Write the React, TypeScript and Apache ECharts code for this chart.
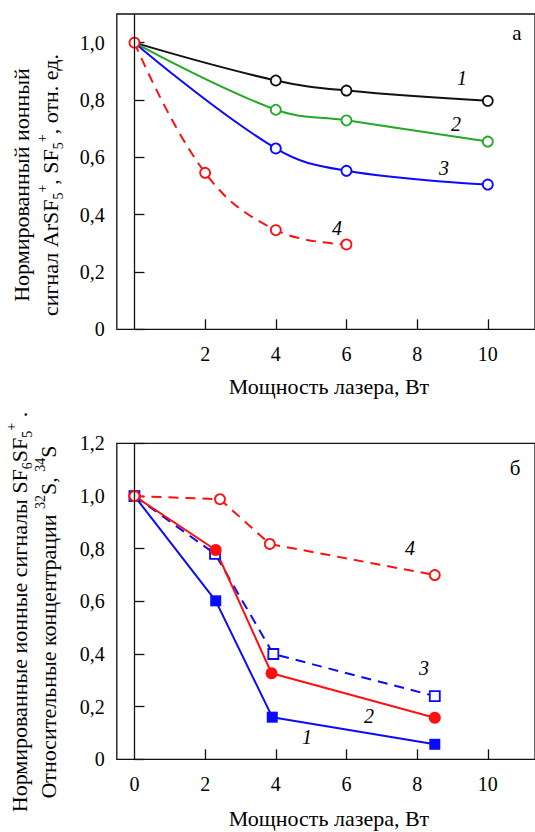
import { useEffect, useRef } from 'react';
import * as echarts from 'echarts';

const FONT = "'Liberation Serif', 'Times New Roman', serif";

// Panel а: normalized ion signal vs laser power (W)
const powerA = [0, 4, 6, 10];
const signalA1 = [1.0, 0.868, 0.833, 0.797];
const signalA2 = [1.0, 0.766, 0.729, 0.655];
const signalA3 = [1.0, 0.631, 0.553, 0.505];
const powerA4 = [0, 2, 4, 6];
const signalA4 = [1.0, 0.546, 0.346, 0.296];

// Panel б: normalized ion signals / relative concentrations vs laser power (W)
const powerB1 = [0, 2.3, 3.9, 8.5];
const signalB1 = [1.0, 0.602, 0.16, 0.057];
const powerB2 = [0, 2.3, 3.88, 8.5];
const signalB2 = [1.0, 0.795, 0.327, 0.158];
const powerB3 = [0, 2.28, 3.93, 8.5];
const signalB3 = [1.0, 0.78, 0.4, 0.24];
const powerB4 = [0, 2.42, 3.83, 8.5];
const signalB4 = [1.0, 0.988, 0.818, 0.7];

const xLabelsA = [2, 4, 6, 8, 10];
const xLabelsB = [0, 2, 4, 6, 8, 10];
const xTickMarks = [2, 4, 6, 8, 10];
const yTicksA = [0, 0.2, 0.4, 0.6, 0.8, 1.0];
const yTicksB = [0, 0.2, 0.4, 0.6, 0.8, 1.0, 1.2];

const BLACK = '#111111';
const GREEN = '#22aa22';
const BLUE = '#0a0aff';
const RED = '#ff1010';

const pairs = (xs: number[], ys: number[], hideFirst = false) =>
  xs.map((x, i) =>
    hideFirst && i === 0 ? { value: [x, ys[i]], symbol: 'none' } : { value: [x, ys[i]] }
  );

const fmtY = (v: number) => (v === 0 ? '0' : v.toFixed(1).replace('.', ','));

export default function App() {
  const ref = useRef<HTMLDivElement>(null);

  useEffect(() => {
    if (!ref.current) return;
    const chart = echarts.init(ref.current, undefined, { renderer: 'svg' });

    const gridLeft = 116.8;
    const gridWidth = 421;
    const unitX = 35.57;
    const xMin = -0.5;
    const xMax = xMin + gridWidth / unitX;

    const xAxisBase = (gridIndex: number, labels: number[]) => ({
      type: 'value',
      gridIndex,
      min: xMin,
      max: xMax,
      axisLine: { show: false },
      splitLine: { show: false },
      axisTick: {
        show: true,
        inside: true,
        length: 10,
        customValues: xTickMarks,
        lineStyle: { color: BLACK, width: 1.3 },
      },
      axisLabel: {
        show: true,
        customValues: labels,
        margin: 15,
        color: '#000',
        fontFamily: FONT,
        fontSize: 20,
      },
    });

    const yAxisBase = (gridIndex: number, max: number, ticks: number[]) => ({
      type: 'value',
      gridIndex,
      min: 0,
      max,
      axisLine: { show: false },
      splitLine: { show: false },
      axisTick: {
        show: true,
        inside: true,
        length: 10,
        customValues: ticks,
        lineStyle: { color: BLACK, width: 1.3 },
      },
      axisLabel: {
        show: true,
        customValues: ticks,
        margin: 12,
        color: '#000',
        fontFamily: FONT,
        fontSize: 20,
        formatter: (v: number) => fmtY(v),
      },
    });

    const zeroLine = {
      silent: true,
      symbol: ['none', 'none'],
      label: { show: false },
      lineStyle: { color: BLACK, width: 1.3, type: 'solid' },
      data: [{ xAxis: 0 }],
    };

    const openMarker = (color: string, symbol = 'circle', size = 10) => ({
      symbol,
      symbolSize: size,
      itemStyle: { color: '#ffffff', borderColor: color, borderWidth: 1.8 },
    });
    const filledMarker = (color: string, symbol: string, size: number) => ({
      symbol,
      symbolSize: size,
      itemStyle: { color, borderWidth: 0 },
    });

    const text = (
      x: number,
      y: number,
      t: string,
      size = 20,
      italic = false,
      rotation = 0,
      rich?: any
    ) => ({
      type: 'text',
      x,
      y,
      rotation,
      silent: true,
      style: {
        text: t,
        fill: '#000',
        fontFamily: FONT,
        fontSize: size,
        fontStyle: italic ? 'italic' : 'normal',
        align: 'center',
        verticalAlign: 'middle',
        rich,
      },
    });

    const richTitle = {
      n: { fontFamily: FONT, fontSize: 22, lineHeight: 30, color: '#000', verticalAlign: 'middle' },
      sub: { fontFamily: FONT, fontSize: 14, lineHeight: 14, color: '#000', verticalAlign: 'bottom' },
      sup: { fontFamily: FONT, fontSize: 14, lineHeight: 14, color: '#000', verticalAlign: 'top' },
    };

    const smoothCurve = { smooth: 0.4 };

    chart.setOption({
      animation: false,
      grid: [
        {
          left: gridLeft,
          top: 14,
          width: gridWidth,
          height: 315.3,
          show: true,
          borderColor: BLACK,
          borderWidth: 1.3,
          backgroundColor: 'transparent',
        },
        {
          left: gridLeft,
          top: 443.4,
          width: gridWidth,
          height: 315.9,
          show: true,
          borderColor: BLACK,
          borderWidth: 1.3,
          backgroundColor: 'transparent',
        },
      ],
      xAxis: [xAxisBase(0, xLabelsA), xAxisBase(1, xLabelsB)],
      yAxis: [yAxisBase(0, 1.1, yTicksA), yAxisBase(1, 1.2, yTicksB)],
      series: [
        // panel а
        {
          type: 'line',
          xAxisIndex: 0,
          yAxisIndex: 0,
          data: pairs(powerA, signalA1, true),
          ...smoothCurve,
          lineStyle: { color: BLACK, width: 2 },
          ...openMarker(BLACK),
          markLine: zeroLine,
        },
        {
          type: 'line',
          xAxisIndex: 0,
          yAxisIndex: 0,
          data: pairs(powerA, signalA2, true),
          ...smoothCurve,
          lineStyle: { color: GREEN, width: 2 },
          ...openMarker(GREEN),
        },
        {
          type: 'line',
          xAxisIndex: 0,
          yAxisIndex: 0,
          data: pairs(powerA, signalA3, true),
          ...smoothCurve,
          lineStyle: { color: BLUE, width: 2 },
          ...openMarker(BLUE),
        },
        {
          type: 'line',
          xAxisIndex: 0,
          yAxisIndex: 0,
          data: pairs(powerA4, signalA4),
          ...smoothCurve,
          lineStyle: { color: RED, width: 2, type: [10, 7] },
          ...openMarker(RED),
        },
        // panel б
        {
          type: 'line',
          xAxisIndex: 1,
          yAxisIndex: 1,
          data: pairs(powerB1, signalB1),
          lineStyle: { color: BLUE, width: 2 },
          ...filledMarker(BLUE, 'rect', 11),
          markLine: zeroLine,
        },
        {
          type: 'line',
          xAxisIndex: 1,
          yAxisIndex: 1,
          data: pairs(powerB3, signalB3),
          lineStyle: { color: BLUE, width: 2, type: [10, 7] },
          ...openMarker(BLUE, 'rect', 10),
        },
        {
          type: 'line',
          xAxisIndex: 1,
          yAxisIndex: 1,
          data: pairs(powerB2, signalB2),
          lineStyle: { color: RED, width: 2 },
          ...filledMarker(RED, 'circle', 12),
        },
        {
          type: 'line',
          xAxisIndex: 1,
          yAxisIndex: 1,
          data: pairs(powerB4, signalB4),
          lineStyle: { color: RED, width: 2, type: [10, 7] },
          ...openMarker(RED),
        },
      ],
      graphic: [
        // panel letters
        text(517, 33, 'а', 21),
        text(515, 468, 'б', 21),
        // curve numbers, panel а
        text(462, 78, '1', 20, true),
        text(456, 124, '2', 20, true),
        text(444, 168, '3', 20, true),
        text(337, 228, '4', 20, true),
        // curve numbers, panel б
        text(307, 737, '1', 20, true),
        text(369, 716, '2', 20, true),
        text(424, 668, '3', 20, true),
        text(410, 548, '4', 20, true),
        // x-axis titles
        text(329, 386, 'Мощность лазера, Вт', 22),
        text(329, 818, 'Мощность лазера, Вт', 22),
        // y-axis titles, panel а
        text(21, 185, '{n|Нормированный ионный}', 22, false, Math.PI / 2, richTitle),
        text(
          50,
          185,
          '{n|сигнал ArSF}{sub|5}{sup|+}{n|, SF}{sub|5}{sup|+}{n|, отн. ед.}',
          22,
          false,
          Math.PI / 2,
          richTitle
        ),
        // y-axis titles, panel б
        text(
          19,
          612,
          '{n|Нормированные ионные сигналы SF}{sub|6}{n|SF}{sub|5}{sup|+}{n| .}',
          22,
          false,
          Math.PI / 2,
          richTitle
        ),
        text(
          48,
          622,
          '{n|Относительные концентрации }{sup|32}{n|S, }{sup|34}{n|S}',
          22,
          false,
          Math.PI / 2,
          richTitle
        ),
      ],
    });

    return () => chart.dispose();
  }, []);

  return (
    <div
      ref={ref}
      style={{ position: 'absolute', left: 0, top: 0, width: 535, height: 832, background: '#fff' }}
    />
  );
}
